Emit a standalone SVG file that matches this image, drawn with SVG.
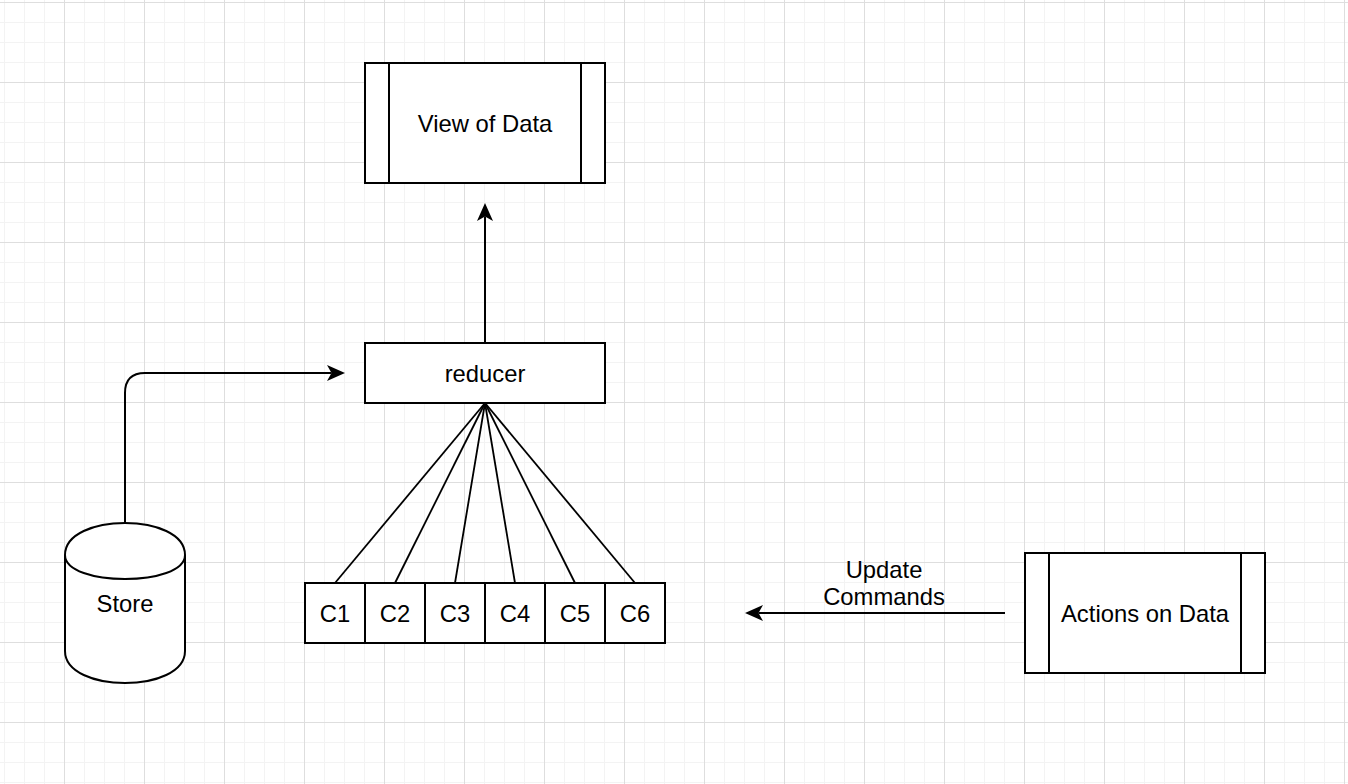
<svg xmlns="http://www.w3.org/2000/svg" width="1348" height="784" viewBox="0 0 1348 784">
  <style>
    .shape { fill: #ffffff; stroke: #000000; stroke-width: 2; }
    .inner { fill: none; stroke: #000000; stroke-width: 2; }
    .edge { fill: none; stroke: #000000; stroke-width: 2; }
    .fan { fill: none; stroke: #000000; stroke-width: 1.8; }
    .label { font-family: "Liberation Sans", Arial, Helvetica, sans-serif; font-size: 23.8px; fill: #000000; text-anchor: middle; }
  </style>
  <defs>
    <pattern id="grid" x="64" y="2" width="80" height="80" patternUnits="userSpaceOnUse">
      <rect x="0" y="0" width="80" height="80" fill="#ffffff"/>
      <rect x="20" y="0" width="1" height="80" fill="#f3f3f3"/>
      <rect x="40" y="0" width="1" height="80" fill="#f3f3f3"/>
      <rect x="60" y="0" width="1" height="80" fill="#f3f3f3"/>
      <rect x="0" y="20" width="80" height="1" fill="#f3f3f3"/>
      <rect x="0" y="40" width="80" height="1" fill="#f3f3f3"/>
      <rect x="0" y="60" width="80" height="1" fill="#f3f3f3"/>
      <rect x="0" y="0" width="1" height="80" fill="#dedede"/>
      <rect x="0" y="0" width="80" height="1" fill="#dedede"/>
    </pattern>
    <marker id="arrow" markerUnits="userSpaceOnUse" viewBox="0 -9 18 18" refX="4.5" refY="0" markerWidth="18" markerHeight="18" orient="auto">
      <path d="M0,-8 L18,0 L0,8 L4.5,0 Z" fill="#000000" stroke="none"/>
    </marker>
  </defs>

  <rect x="0" y="0" width="1348" height="784" fill="url(#grid)"/>

  <g id="connectors">
    <path class="edge" d="M125,523 L125,393 Q125,373 145,373 L331.5,373" marker-end="url(#arrow)"/>
    <path class="edge" d="M485,343 L485,216.5" marker-end="url(#arrow)"/>
    <path class="edge" d="M1005,613 L758.5,613" marker-end="url(#arrow)"/>
    <line class="fan" x1="485" y1="403" x2="335" y2="583"/>
    <line class="fan" x1="485" y1="403" x2="395" y2="583"/>
    <line class="fan" x1="485" y1="403" x2="455" y2="583"/>
    <line class="fan" x1="485" y1="403" x2="515" y2="583"/>
    <line class="fan" x1="485" y1="403" x2="575" y2="583"/>
    <line class="fan" x1="485" y1="403" x2="635" y2="583"/>
    <text class="label" x="884" y="578">Update</text>
    <text class="label" x="884" y="605">Commands</text>
  </g>

  <g id="view-of-data">
    <rect class="shape" x="365" y="63" width="240" height="120"/>
    <line class="inner" x1="389" y1="63" x2="389" y2="183"/>
    <line class="inner" x1="581" y1="63" x2="581" y2="183"/>
    <text class="label" x="485" y="131.5">View of Data</text>
  </g>

  <g id="reducer">
    <rect class="shape" x="365" y="343" width="240" height="60"/>
    <text class="label" x="485" y="381.5">reducer</text>
  </g>

  <g id="store">
    <path class="shape" d="M65,555 C65,512.3 185,512.3 185,555 L185,651 C185,693.7 65,693.7 65,651 Z"/>
    <path class="inner" d="M65,555 C65,587 185,587 185,555"/>
    <text class="label" x="125" y="611.5">Store</text>
  </g>

  <g id="c1">
    <rect class="shape" x="305" y="583" width="60" height="60"/>
    <text class="label" x="335" y="621.5">C1</text>
  </g>
  <g id="c2">
    <rect class="shape" x="365" y="583" width="60" height="60"/>
    <text class="label" x="395" y="621.5">C2</text>
  </g>
  <g id="c3">
    <rect class="shape" x="425" y="583" width="60" height="60"/>
    <text class="label" x="455" y="621.5">C3</text>
  </g>
  <g id="c4">
    <rect class="shape" x="485" y="583" width="60" height="60"/>
    <text class="label" x="515" y="621.5">C4</text>
  </g>
  <g id="c5">
    <rect class="shape" x="545" y="583" width="60" height="60"/>
    <text class="label" x="575" y="621.5">C5</text>
  </g>
  <g id="c6">
    <rect class="shape" x="605" y="583" width="60" height="60"/>
    <text class="label" x="635" y="621.5">C6</text>
  </g>

  <g id="actions-on-data">
    <rect class="shape" x="1025" y="553" width="240" height="120"/>
    <line class="inner" x1="1049" y1="553" x2="1049" y2="673"/>
    <line class="inner" x1="1241" y1="553" x2="1241" y2="673"/>
    <text class="label" x="1145" y="621.5">Actions on Data</text>
  </g>
</svg>
